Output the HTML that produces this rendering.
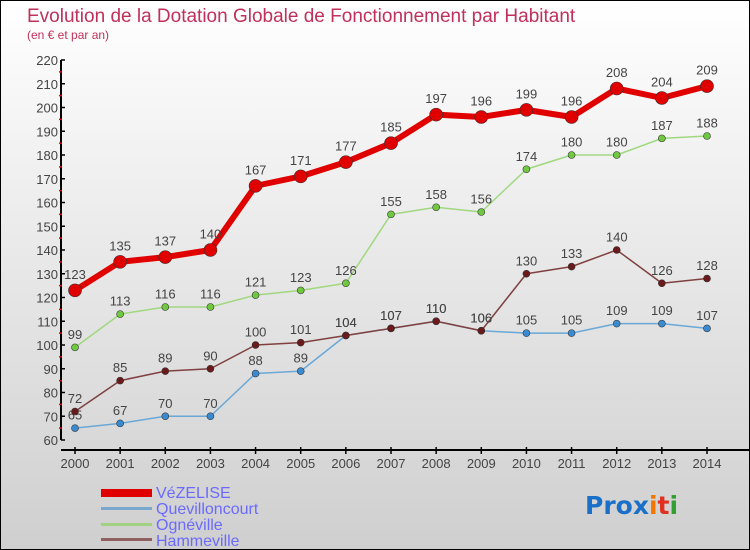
<!DOCTYPE html>
<html><head><meta charset="utf-8">
<style>
body{margin:0;padding:0}
#c{position:relative;width:748px;height:548px;border:1px solid #000;background:linear-gradient(#ffffff,#cfcfcf);overflow:hidden;font-family:"Liberation Sans",sans-serif}
</style></head><body>
<div id="c">
<svg id="s" width="748" height="548" xmlns="http://www.w3.org/2000/svg">
<text x="26" y="21" font-size="19" fill="#c0305a">Evolution de la Dotation Globale de Fonctionnement par Habitant</text>
<text x="26" y="38" font-size="12" fill="#c0305a">(en € et par an)</text>
<g id="axes"></g>
<g id="series"></g>
<g>
<rect x="100" y="488" width="51" height="8" fill="#e00000"/>
<text x="155" y="497" font-size="16" fill="#6a6aff">VéZELISE</text>
<rect x="100" y="506" width="51" height="3" fill="#7aa8cc"/>
<text x="155" y="513" font-size="16" fill="#6a6aff">Quevilloncourt</text>
<rect x="100" y="522" width="51" height="3" fill="#a0d080"/>
<text x="155" y="529" font-size="16" fill="#6a6aff">Ognéville</text>
<rect x="100" y="537" width="51" height="3" fill="#906060"/>
<text x="155" y="545" font-size="16" fill="#6a6aff">Hammeville</text>
</g>
<g font-size="25" font-family="'DejaVu Sans',sans-serif" font-weight="bold">
<text x="584" y="513"><tspan fill="#1a70c8">Pro</tspan><tspan fill="#1a70c8">x</tspan><tspan fill="#f07800">i</tspan><tspan fill="#e03020">t</tspan><tspan fill="#30a030">i</tspan></text>
</g>
</svg>
</div>
<script>
const years=[2000,2001,2002,2003,2004,2005,2006,2007,2008,2009,2010,2011,2012,2013,2014];
const vezelise=[123,135,137,140,167,171,177,185,197,196,199,196,208,204,209];
const quevilloncourt=[65,67,70,70,88,89,104,107,110,106,105,105,109,109,107];
const ogneville=[99,113,116,116,121,123,126,155,158,156,174,180,180,187,188];
const hammeville=[72,85,89,90,100,101,104,107,110,106,130,133,140,126,128];
const yTicks=[60,70,80,90,100,110,120,130,140,150,160,170,180,190,200,210,220];
const NS="http://www.w3.org/2000/svg";
function X(i){return 74+i*(632/(years.length-1));}
function Y(v){return 439+(60-v)*2.375;}
function mk(t,a,p){const e=document.createElementNS(NS,t);for(const k in a)e.setAttribute(k,a[k]);p.appendChild(e);return e;}
const ax=document.getElementById('axes');
const ya=mk('line',{x1:60,y1:Y(220),x2:60,y2:Y(60),stroke:'#000','stroke-width':2},ax);


const xa=mk('line',{x1:60,y1:449,x2:748,y2:449,stroke:'#000','stroke-width':2},ax);


yTicks.forEach(v=>{
 mk('line',{x1:60,y1:Y(v),x2:64,y2:Y(v),stroke:'#000','stroke-width':1.5},ax);
 if(v<220) mk('line',{x1:58,y1:Y(v+5),x2:61,y2:Y(v+5),stroke:'#e00','stroke-width':1.5},ax);
 const t=mk('text',{x:57,y:Y(v)+5,'text-anchor':'end','font-size':13,fill:'#444'},ax);
 t.textContent=v;
 
 
});
years.forEach((y,i)=>{
 mk('line',{x1:X(i),y1:446,x2:X(i),y2:453,stroke:'#000','stroke-width':1.5},ax);
 const t=mk('text',{x:X(i),y:467,'text-anchor':'middle','font-size':13,fill:'#444'},ax);
 t.textContent=y;
 
 
});
const sg=document.getElementById('series');
function draw(name,vals,color,lw,r,fill){
 const g=mk('g',{},sg);
 
 
 const pts=vals.map((v,i)=>X(i)+','+Y(v)).join(' ');
 const l=mk('polyline',{points:pts,fill:'none',stroke:color,'stroke-width':lw,'stroke-linejoin':'round'},g);
 
 
 vals.forEach((v,i)=>{
  const c=mk('circle',{cx:X(i),cy:Y(v),r:r,fill:fill,stroke:'#333','stroke-width':0.6},g);
  
  
  const t=mk('text',{x:X(i),y:Y(v)-r-5,'text-anchor':'middle','font-size':13,fill:'#444'},g);
  t.textContent=v;
  
  
 });
}
draw('quevilloncourt',quevilloncourt,'#6aa8d8',1.5,3.5,'#3a8ad0');
draw('ogneville',ogneville,'#a0d880',1.5,3.5,'#70c840');
draw('hammeville',hammeville,'#804040',1.5,3.5,'#6a1a1a');
draw('vezelise',vezelise,'#e00000',6,6.5,'#e00000');
</script>
</body></html>
